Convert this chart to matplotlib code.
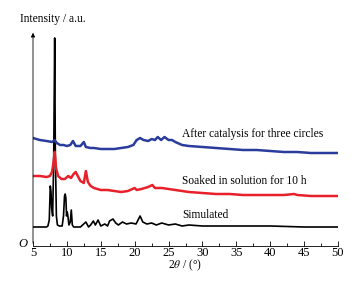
import matplotlib
matplotlib.use('Agg')
import matplotlib.pyplot as plt

plt.rcParams['font.family'] = 'Liberation Serif'
plt.rcParams['mathtext.fontset'] = 'stix'

# Simulated pattern
sim_x = [5, 6, 7, 7.2, 7.4, 7.55, 7.65, 7.75, 7.9, 8.05, 8.2, 8.3, 8.45, 8.6, 8.9, 9.3, 9.5, 9.65, 9.75, 9.85, 9.95, 10.05, 10.15, 10.3, 10.5, 10.65, 10.8, 11.0,
         11.5, 12.0, 12.8, 13.2, 13.5, 13.9, 14.2, 14.6, 15.0, 15.6, 16.0, 16.3, 16.8, 17.2, 17.6, 18.2, 18.8, 19.5, 20.2, 20.8, 21.2, 21.8, 22.5, 23.2,
         24.0, 25.0, 26.0, 27.0, 28.0, 30.0, 32.0, 35.0, 40.0, 45.0, 50.0]
sim_y = [19, 19, 19, 20, 26, 60, 55, 38, 30, 85, 208, 90, 30, 21, 20, 20, 30, 50, 52, 48, 30, 34, 30, 21, 24, 36, 21, 19,
         19, 19, 24, 19, 21, 25, 21, 26, 20, 22, 20, 25, 27, 23, 21, 24, 22, 23, 22, 30, 24, 22, 23, 21,
         23, 21, 22, 20, 21, 20, 20, 20, 20, 19, 19]

# Soaked in solution for 10 h
soak_x = [5, 6, 7, 7.5, 7.8, 8.0, 8.2, 8.4, 8.7, 9.2, 9.7, 10.2, 10.6, 11.0, 11.3, 11.6, 12.0, 12.5, 12.8, 13.1, 13.5, 14, 15, 16, 17, 18, 19,
          20, 20.3, 21, 22, 22.6, 23, 24, 25, 26, 27, 28, 30, 32, 34, 36, 38, 40, 42, 43.5, 44, 46, 48, 50]
soak_y = [70, 70, 69, 70, 74, 82, 94, 78, 70, 67, 67, 70, 68, 72, 74, 70, 65, 63, 75, 64, 60, 58, 56, 56, 55, 54, 55,
          58, 56, 57, 59, 61, 58, 58, 57, 56, 55, 54, 53, 52, 52, 51, 51, 51, 51, 52, 51, 50, 50, 50]

# After catalysis for three circles
cat_x = [5, 6, 7, 7.8, 8.2, 8.5, 9, 9.5, 10, 10.5, 10.9, 11.3, 12, 12.5, 12.8, 13.5, 14, 15, 16, 17, 18, 19, 19.8, 20.3, 20.8, 21.3, 22,
         22.5, 23, 23.4, 23.9, 24.4, 25, 25.5, 26, 27, 28, 30, 32, 34, 36, 38, 40, 42, 44, 46, 48, 50]
cat_y = [108, 106, 105, 104, 106, 103, 101, 101, 100, 101, 105, 100, 100, 104, 99, 98, 98, 97, 97, 97, 98, 99, 101, 106, 108, 106, 105,
         107, 106, 109, 106, 109, 106, 106, 104, 101, 100, 99, 98, 97, 96, 96, 95, 94, 94, 93, 93, 93]

labels = ['Simulated', 'Soaked in solution for 10 h', 'After catalysis for three circles']
label_y = [31, 65, 112]
colors = ['black', '#e8202a', '#2a3c9c']

fig = plt.figure(figsize=(3.64, 2.84), dpi=100)
ax = fig.add_axes([33 / 364, 38 / 284, 305 / 364, 216 / 284])

ax.plot(sim_x, sim_y, color=colors[0], lw=1.2)
ax.plot(soak_x, soak_y, color=colors[1], lw=1.8)
ax.plot(cat_x, cat_y, color=colors[2], lw=1.8)

for lab, ly in zip(labels, label_y):
    ax.text(27, ly, lab, fontsize=8.3, ha='left', va='center')

ax.set_xlim(5, 50)
ax.set_ylim(0, 216)
ax.set_xticks(range(5, 51, 5))
ax.set_xticks([x + 2.5 for x in range(5, 50, 5)], minor=True)
ax.set_yticks([])
ax.tick_params(axis='x', direction='in', length=3.5, width=0.6, labelsize=9, pad=1)
ax.tick_params(axis='x', which='minor', direction='in', length=2, width=0.6)
for s in ['top', 'right', 'left']:
    ax.spines[s].set_visible(False)
ax.spines['bottom'].set_linewidth(0.6)

# y axis as arrow
ax.annotate('', xy=(0, 1), xytext=(0, 0), xycoords='axes fraction',
            arrowprops=dict(arrowstyle='-|>', lw=0.6, color='black', mutation_scale=6))
ax.text(-0.02, 0.01, 'O', transform=ax.transAxes, fontsize=9, style='italic', ha='right', va='center')

fig.text(20 / 364, 1 - 19 / 284, 'Intensity / a.u.', fontsize=8.3, ha='left', va='center')
fig.text(185 / 364, 1 - 265 / 284, r'2$\theta$ / (°)', fontsize=8.3, ha='center', va='center')

fig.savefig('out.png', dpi=100)
